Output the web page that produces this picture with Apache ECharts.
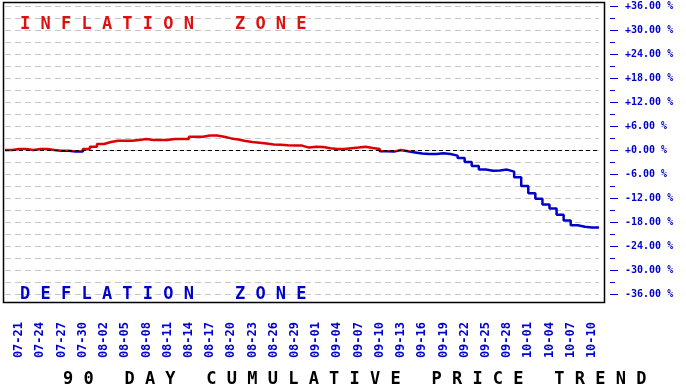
<!doctype html>
<html>
	<head>
		<meta charset="UTF-8">
		<title>90 Day Cumulative Price Trend</title>
		<style type="text/css">
			html, body {
				margin: 0;
				padding: 0;
				background: #fff;
			}
			#chart {
				width: 686px;
				height: 386px;
			}
		</style>
	</head>
	<body>
		<div id="chart"></div>
		<script src="https://cdn.jsdelivr.net/npm/echarts@6/dist/echarts.min.js"></script>
		<script type="text/javascript">
			// 日期: 07-19 .. 10-11, 每天一个点
			var startMonth = 7, startDay = 19, dayCount = 85;
			var monthDays = {7: 31, 8: 31, 9: 30, 10: 31};
			var dates = [];
			var m = startMonth, d = startDay;
			for (var i = 0; i < dayCount; i++) {
				dates.push((m < 10 ? '0' + m : m) + '-' + (d < 10 ? '0' + d : d));
				d++;
				if (d > monthDays[m]) { d = 1; m++; }
			}

			// 累计价格变化 (%)
			var trend = [
				0, 0.25, 0.25, 0, 0.25, 0.25, 0, -0.2, -0.2, -0.4,
				-0.4, 0.25, 0.8, 1.5, 2.0, 2.3, 2.3, 2.3, 2.5, 2.75,
				2.5, 2.5, 2.5, 2.75, 2.75, 2.75, 3.3, 3.3, 3.6, 3.6,
				3.3, 2.9, 2.6, 2.25, 2.0, 1.8, 1.6, 1.4, 1.33, 1.2,
				1.1, 1.1, 0.6, 0.83, 0.75, 0.45, 0.25, 0.25, 0.45, 0.6,
				0.83, 0.5, 0.25, -0.3, -0.4, 0, -0.3, -0.6, -0.9, -1.0,
				-1.0, -0.8, -1.0, -1.4, -2.0, -3.0, -4.0, -4.9, -5.2, -5.1,
				-4.9, -5.4, -6.8, -9.0, -10.8, -12.2, -13.6, -14.6, -16.2, -17.6,
				-18.8, -19.2, -19.4, -19.4, -19.4
			];

			// 标签从 07-21 开始, 每 3 天一个
			var firstLabel = 2, labelStep = 3;
			// 低于此值画蓝色 (通缩)
			var colorSplit = -0.3;

			var mono = '"DejaVu Sans Mono", "Liberation Mono", monospace';
			var blue = '#0000cc';
			var red = '#dd1111';

			var chart = echarts.init(document.getElementById('chart'));
			var option = {
				animation: false,
				backgroundColor: '#fff',
				title: [
					{
						text: 'I N F L A T I O N    Z O N E',
						left: 15, top: 11,
						textStyle: { color: red, fontFamily: mono, fontSize: 17, fontWeight: 'bold' }
					},
					{
						text: 'D E F L A T I O N    Z O N E',
						left: 15, top: 281,
						textStyle: { color: blue, fontFamily: mono, fontSize: 17, fontWeight: 'bold' }
					},
					{
						text: '9 0   D A Y   C U M U L A T I V E   P R I C E   T R E N D',
						left: 58, top: 366,
						textStyle: { color: '#000', fontFamily: mono, fontSize: 17, fontWeight: 'bold' }
					}
				],
				grid: {
					left: 5,
					right: 87,
					top: 6,
					bottom: 92,
					containLabel: false,
					outerBoundsMode: 'none'
				},
				graphic: [{
					type: 'rect',
					silent: true,
					z: 100,
					shape: { x: 3.5, y: 2.5, width: 601, height: 300 },
					style: { fill: 'none', stroke: '#000', lineWidth: 1.5 }
				}],
				xAxis: {
					type: 'category',
					data: dates,
					boundaryGap: false,
					axisLine: { show: false },
					axisTick: { show: false },
					splitLine: { show: false },
					axisLabel: {
						rotate: 90,
						margin: 28,
						color: blue,
						fontFamily: mono,
						fontSize: 12,
						fontWeight: 'bold',
						interval: function (index) {
							return index >= firstLabel && (index - firstLabel) % labelStep === 0;
						}
					}
				},
				yAxis: {
					type: 'value',
					position: 'right',
					offset: 11,
					min: -36,
					max: 36,
					interval: 6,
					axisLine: { show: false },
					axisTick: { show: true, length: 8, lineStyle: { color: blue, width: 1 } },
					minorTick: { show: true, splitNumber: 2, length: 5, lineStyle: { color: blue, width: 1 } },
					splitLine: { show: true, lineStyle: { color: '#c8c8c8', type: [6, 4], width: 1 } },
					minorSplitLine: { show: true, lineStyle: { color: '#c8c8c8', type: [6, 4], width: 1 } },
					axisLabel: {
						margin: 15,
						color: blue,
						fontFamily: mono,
						fontSize: 10,
						fontWeight: 'bold',
						formatter: function (v) {
							return (v >= 0 ? '+' : '') + v.toFixed(2) + ' %';
						}
					}
				},
				series: [{
					type: 'line',
					data: trend,
					step: 'end',
					symbol: 'none',
					lineStyle: { width: 2.5, color: '#dd0000' },
					markLine: {
						silent: true,
						symbol: ['none', 'none'],
						label: { show: false },
						lineStyle: { color: '#000', type: [4, 3], width: 1 },
						data: [{ yAxis: 0 }]
					}
				}]
			};
			chart.setOption(option);

			// 按像素位置做红/蓝分界的全局渐变
			var ySplit = chart.convertToPixel({ yAxisIndex: 0 }, colorSplit);
			var h = chart.getHeight();
			var f = ySplit / h;
			chart.setOption({
				series: [{
					lineStyle: {
						color: new echarts.graphic.LinearGradient(0, 0, 0, h, [
							{ offset: 0, color: '#dd0000' },
							{ offset: f, color: '#dd0000' },
							{ offset: f, color: blue },
							{ offset: 1, color: blue }
						], true)
					}
				}]
			});
		</script>
	</body>
</html>
